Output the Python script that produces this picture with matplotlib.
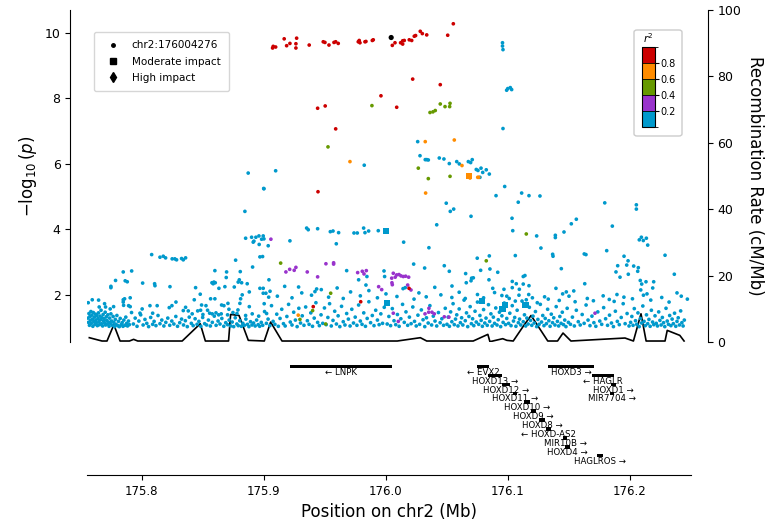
import matplotlib
matplotlib.use("Agg")
import matplotlib.pyplot as plt
from matplotlib.colors import ListedColormap, BoundaryNorm
from matplotlib.colorbar import ColorbarBase
from matplotlib.lines import Line2D
from matplotlib.patches import Rectangle, FancyBboxPatch

# ---- data -------------------------------------------------------------
lead_snp = ("chr2:176004276", 176.004276, 9.85)

# (position Mb, -log10 p), grouped by r2 bin with the lead SNP
red_snps = [
    (175.9076, 9.58), (175.9071, 9.53), (175.9096, 9.56), (175.9166, 9.81), (175.9186, 9.60),
    (175.9213, 9.67), (175.9268, 9.83), (175.9262, 9.66), (175.9262, 9.53), (175.9371, 9.62),
    (175.9486, 9.72), (175.9500, 9.70), (175.9533, 9.62), (175.9574, 9.70), (175.9588, 9.72),
    (175.9609, 9.67), (175.9773, 9.72), (175.9781, 9.76), (175.9787, 9.69), (175.9828, 9.72),
    (175.9836, 9.73), (175.9888, 9.76), (175.9896, 9.78), (176.0052, 9.61), (176.0074, 9.69),
    (176.0120, 9.69), (176.0137, 9.65), (176.0137, 9.75), (176.0150, 9.76), (176.0191, 9.78),
    (176.0211, 9.76), (176.0232, 9.89), (176.0243, 9.91), (176.0281, 10.04), (176.0298, 9.97),
    (176.0334, 9.93), (176.0506, 9.92), (176.0552, 10.27), (176.0219, 8.58), (176.0445, 8.41),
    (175.9440, 7.69), (175.9502, 7.76), (175.9959, 8.07), (176.0088, 7.72), (175.9588, 7.06),
    (175.9443, 5.14), (175.9404, 1.63), (175.9793, 1.78), (176.0189, 2.19),
]

orange_snps = [
    (175.9705, 6.06), (176.0322, 6.67), (176.0560, 6.72), (176.0623, 5.94), (176.0689, 5.56),
    (176.0752, 5.58), (176.0760, 5.58), (176.0325, 5.10), (175.9281, 1.37),
]

green_snps = [
    (175.9885, 7.77), (176.0361, 7.56), (176.0385, 7.58), (176.0404, 7.62), (176.0445, 7.82),
    (176.0484, 7.74), (176.0522, 7.74), (176.0525, 7.84), (176.0265, 5.86), (176.0347, 5.54),
    (176.0525, 5.61), (176.0822, 3.03), (176.1150, 3.85), (175.9137, 2.96), (175.9547, 2.04),
    (175.9399, 1.51), (175.9295, 1.24), (175.9506, 1.10), (175.9525, 6.51),
]

purple_snps = [
    (175.9057, 3.69), (175.9180, 2.69), (175.9211, 2.77), (175.9248, 2.74), (175.9262, 2.83),
    (175.9355, 2.69), (175.9768, 2.67), (175.9806, 2.71), (175.9839, 2.73), (175.9820, 2.63),
    (175.9440, 2.54), (176.0060, 2.65), (176.0088, 2.60), (176.0107, 2.61), (176.0123, 2.57),
    (176.0142, 2.55), (176.0161, 2.56), (176.0186, 2.53), (176.0076, 2.53), (176.0047, 2.50),
    (176.0049, 2.36), (176.0052, 2.30), (176.0178, 2.29), (176.0205, 2.14), (175.9940, 2.24),
    (175.9965, 2.15), (176.0060, 1.43), (176.0101, 1.18), (176.0320, 1.41), (176.0350, 1.46),
    (176.0377, 1.46), (176.0396, 1.41), (176.0352, 1.58), (176.0478, 1.32), (176.0516, 1.31),
    (175.9508, 2.94), (175.9571, 2.93), (175.9571, 2.97), (176.1713, 1.43),
]

blue_snps = [
    # upper tail
    (176.0955, 9.69), (176.0955, 9.59), (176.0959, 9.48), (176.0959, 7.07),
    (176.0989, 8.24), (176.0998, 8.29), (176.1019, 8.32), (176.1030, 8.26),
    (176.0260, 6.67), (176.0279, 6.24), (176.0322, 6.12), (176.0334, 6.12), (176.0347, 6.11),
    (176.0437, 6.17), (176.0475, 6.14), (176.0519, 6.00), (176.0580, 6.06), (176.0601, 5.99),
    (176.0675, 6.06), (176.0694, 6.03), (176.0707, 6.12), (176.0740, 5.82), (176.0754, 5.79),
    (176.0779, 5.86), (176.0793, 5.73), (176.0822, 5.81), (176.0847, 5.68), (176.0770, 5.58),
    (176.0973, 5.30), (176.1112, 5.10), (176.1084, 4.82), (176.0902, 5.02), (176.1172, 5.02),
    (176.1262, 5.01), (176.0494, 4.79), (176.0555, 4.61), (176.0527, 4.54), (176.0697, 4.39),
    (176.1033, 4.33), (176.1039, 3.95), (176.1235, 3.79), (176.1388, 3.81), (176.1388, 3.74),
    (176.1459, 3.91), (176.1519, 4.16), (176.1560, 4.30), (176.1793, 4.80), (176.1855, 4.09),
    (176.2052, 4.74), (176.2052, 4.61), (176.2076, 3.67), (176.2093, 3.75), (176.2109, 3.65),
    (176.2134, 3.72), (176.2145, 3.51), (176.1809, 3.34), (176.1270, 3.42), (176.1060, 3.19),
    (176.1366, 3.23), (176.1369, 3.17), (176.1625, 3.24), (176.1639, 3.22), (176.2287, 3.20),
    (176.1951, 3.17), (176.1984, 3.03), (176.1973, 2.90), (176.1899, 2.88), (176.2030, 2.87),
    (176.2068, 2.82), (176.1885, 2.69), (176.1986, 2.62), (176.2063, 2.71), (176.1918, 2.53),
    (176.2363, 2.62), (176.1437, 2.79), (176.1139, 2.58), (176.1068, 2.33), (176.1093, 2.16),
    (176.1125, 2.32), (176.1035, 2.21), (176.1172, 2.27), (176.1393, 2.19), (176.1448, 2.02),
    (176.1478, 2.08), (176.1539, 2.11), (176.1629, 2.33), (176.1893, 2.00), (176.2084, 2.43),
    (176.2096, 2.32), (176.2131, 2.39), (176.2194, 2.39), (176.2088, 2.14), (176.2139, 2.02),
    (176.2186, 2.20), (176.2385, 2.05), (176.0967, 2.16), (176.1035, 2.40), (176.1125, 2.55),
    (176.1134, 1.71), (176.1170, 2.00), (176.0478, 2.88), (176.0519, 2.71), (176.0748, 3.11),
    (176.0847, 3.18), (176.0776, 2.74), (176.0852, 2.78), (176.0916, 2.68), (176.0653, 2.64),
    (176.0658, 2.36), (176.0702, 2.50), (176.0716, 2.51), (176.0697, 2.42), (176.0844, 2.45),
    (176.0541, 2.26), (176.0875, 2.19),
    (175.9822, 5.95), (175.9096, 5.78), (175.8998, 5.24), (176.0416, 4.13), (176.0145, 3.60),
    (176.0352, 3.43), (175.9350, 4.03), (175.9363, 3.98), (175.9440, 4.01), (175.9544, 3.92),
    (175.9566, 3.94), (175.9612, 3.89), (175.9738, 3.88), (175.9765, 3.88), (175.9817, 4.03),
    (175.9828, 3.89), (175.9858, 3.94), (175.9937, 3.95), (175.9593, 3.55), (175.9213, 3.64),
    (175.8899, 3.75), (175.8918, 3.63), (175.8934, 3.75), (175.8959, 3.79), (175.8994, 3.79),
    (175.8981, 3.69), (175.9000, 3.70), (175.8912, 3.60), (175.8961, 3.53), (175.9035, 3.49),
    (175.8967, 3.15), (175.8989, 3.16), (175.8907, 2.84), (175.9678, 2.73), (175.9984, 2.72),
    (175.9844, 2.55), (176.0227, 2.93), (176.0317, 2.81), (175.9041, 2.45), (175.9989, 2.55),
    (175.9776, 2.45), (175.9836, 2.29), (175.9284, 2.23), (175.9432, 2.17), (175.9418, 2.09),
    (175.8994, 2.19), (176.0158, 2.21),
    (175.8871, 5.71), (175.9000, 5.23), (175.8844, 4.54), (175.8850, 3.72), (175.8768, 3.05),
    (175.8080, 3.22), (175.8148, 3.14), (175.8175, 3.17), (175.8194, 3.12), (175.8248, 3.09),
    (175.8270, 3.09), (175.8284, 3.06), (175.8325, 3.10), (175.8339, 3.06), (175.8358, 3.12),
    (175.7847, 2.69), (175.7916, 2.72), (175.7784, 2.43), (175.7863, 2.42), (175.7880, 2.39),
    (175.8006, 2.35), (175.8104, 2.33), (175.8107, 2.27), (175.7746, 2.21), (175.7746, 2.25),
    (175.8230, 2.24), (175.8598, 2.73), (175.8694, 2.69), (175.8806, 2.70), (175.8691, 2.52),
    (175.8798, 2.45), (175.8789, 2.38), (175.8817, 2.36), (175.8574, 2.36), (175.8590, 2.38),
    (175.8601, 2.36), (175.8584, 2.33), (175.8440, 2.21), (175.8757, 2.23), (175.8680, 2.24),
    (175.8631, 2.19), (175.8863, 2.33), (175.8880, 2.08), (175.8967, 2.19), (175.8994, 2.04),
    (175.9016, 2.04), (175.9039, 1.92), (175.8822, 1.99), (175.8809, 1.87), (175.8478, 2.01),
    (175.8429, 1.84), (175.8525, 1.66), (175.8563, 1.87), (175.8598, 1.87), (175.8489, 1.68),
    (175.8705, 1.73), (175.8803, 1.73), (175.8713, 1.55), (175.8787, 1.53), (175.8880, 1.63),
    (175.9002, 1.72), (175.7858, 1.87), (175.7904, 1.90), (175.7847, 1.84), (175.7847, 1.77),
    (175.7850, 1.67), (175.7891, 1.66), (175.7904, 1.63), (175.7740, 1.56), (175.7768, 1.63),
    (175.7702, 1.62), (175.7650, 1.62), (175.7694, 1.72), (175.7645, 1.83), (175.7593, 1.84),
    (175.7560, 1.75), (175.7984, 1.43), (175.8002, 1.56), (175.8066, 1.66), (175.8088, 1.43),
    (175.8125, 1.66), (175.8224, 1.60), (175.8246, 1.66), (175.8279, 1.77), (175.8339, 1.51),
    (175.8358, 1.61), (175.8380, 1.50), (175.8412, 1.41), (175.8457, 1.50), (175.8481, 1.52),
    (175.8500, 1.39), (175.8538, 1.52), (175.8555, 1.43), (175.8576, 1.41), (175.8607, 1.44),
    (175.8629, 1.38), (175.8650, 1.41), (175.8653, 1.68), (175.8672, 1.66), (175.8702, 1.38),
    (175.8746, 1.45), (175.8779, 1.42), (175.8850, 1.36), (175.8904, 1.41), (175.8957, 1.34),
    (175.9022, 1.42),
    # 1.7 - 2.3 band across the middle and right
    (175.9050, 2.10), (175.9110, 1.95), (175.9170, 2.25), (175.9230, 1.90), (175.9310, 2.05),
    (175.9390, 1.98), (175.9470, 2.15), (175.9530, 1.92), (175.9600, 2.20), (175.9650, 1.88),
    (175.9710, 2.08), (175.9790, 1.96), (175.9860, 2.12), (175.9930, 1.90), (176.0000, 2.02),
    (176.0090, 1.94), (176.0140, 2.18), (176.0230, 1.86), (176.0270, 2.05), (176.0330, 1.93),
    (176.0400, 2.22), (176.0450, 1.99), (176.0540, 1.91), (176.0600, 2.07), (176.0650, 1.88),
    (176.0750, 2.00), (176.0800, 1.90), (176.0890, 2.06), (176.0950, 1.97),
    (176.0990, 1.95), (176.1010, 1.88), (176.1060, 1.80), (176.1090, 1.98), (176.1150, 1.84),
    (176.1200, 1.90), (176.1240, 1.75), (176.1300, 1.93), (176.1330, 1.86), (176.1420, 1.82),
    (176.1500, 1.95), (176.1550, 1.78), (176.1650, 1.88), (176.1700, 1.81), (176.1780, 1.96),
    (176.1830, 1.85), (176.1870, 1.79), (176.1950, 1.92), (176.2020, 1.87), (176.2110, 1.98),
    (176.2170, 1.83), (176.2260, 1.91), (176.2320, 1.77), (176.2420, 1.95), (176.2470, 1.86),
    # low band, p around 0.1 - 0.03
    (175.7558, 1.28), (175.7562, 1.15), (175.7566, 1.42), (175.7570, 1.06), (175.7574, 1.33),
    (175.7578, 1.21), (175.7582, 1.48), (175.7586, 1.12), (175.7590, 1.37), (175.7594, 1.25),
    (175.7598, 1.03), (175.7602, 1.45), (175.7606, 1.18), (175.7611, 1.31), (175.7615, 1.09),
    (175.7619, 1.40), (175.7623, 1.22), (175.7627, 1.14), (175.7631, 1.36), (175.7635, 1.05),
    (175.7640, 1.27), (175.7644, 1.44), (175.7648, 1.17), (175.7652, 1.08), (175.7657, 1.34),
    (175.7661, 1.23), (175.7665, 1.52), (175.7669, 1.11), (175.7673, 1.29), (175.7678, 1.04),
    (175.7682, 1.39), (175.7686, 1.19), (175.7690, 1.26), (175.7695, 1.13), (175.7699, 1.46),
    (175.7703, 1.07), (175.7708, 1.32), (175.7712, 1.21), (175.7716, 1.10), (175.7721, 1.38),
    (175.7726, 1.16), (175.7731, 1.03), (175.7736, 1.28), (175.7741, 1.12), (175.7746, 1.41),
    (175.7752, 1.19), (175.7758, 1.06), (175.7764, 1.33), (175.7770, 1.15), (175.7776, 1.02),
    (175.7782, 1.24), (175.7788, 1.09), (175.7795, 1.36), (175.7802, 1.05), (175.7808, 1.18),
    (175.7815, 1.02), (175.7822, 1.27), (175.7830, 1.08), (175.7838, 1.14), (175.7845, 1.03),
    (175.7852, 1.22), (175.7860, 1.06), (175.7868, 1.31), (175.7875, 1.12), (175.7882, 1.04),
    (175.7890, 1.19), (175.7897, 1.08),
    (175.7915, 1.45), (175.7930, 1.10), (175.7945, 1.28), (175.7960, 1.03), (175.7975, 1.19),
    (175.7990, 1.38), (175.8010, 1.07), (175.8025, 1.24), (175.8040, 1.12), (175.8055, 1.02),
    (175.8072, 1.30), (175.8088, 1.09), (175.8100, 1.18), (175.8115, 1.05), (175.8132, 1.36),
    (175.8148, 1.11), (175.8163, 1.22), (175.8180, 1.04), (175.8196, 1.15), (175.8212, 1.28),
    (175.8228, 1.06), (175.8245, 1.19), (175.8262, 1.10), (175.8278, 1.33), (175.8292, 1.03),
    (175.8310, 1.14), (175.8325, 1.25), (175.8341, 1.07), (175.8356, 1.20), (175.8372, 1.02),
    (175.8388, 1.31),
    (175.8405, 1.12), (175.8420, 1.05), (175.8436, 1.26), (175.8452, 1.09), (175.8467, 1.18),
    (175.8483, 1.03), (175.8498, 1.30), (175.8514, 1.11), (175.8530, 1.07), (175.8545, 1.22),
    (175.8561, 1.04), (175.8577, 1.15), (175.8593, 1.34), (175.8608, 1.06), (175.8624, 1.19),
    (175.8640, 1.10), (175.8655, 1.27), (175.8671, 1.03), (175.8687, 1.14),
    (175.8702, 1.08), (175.8715, 1.22), (175.8728, 1.04), (175.8740, 1.16), (175.8752, 1.02),
    (175.8765, 1.29), (175.8778, 1.10), (175.8790, 1.05), (175.8802, 1.20), (175.8815, 1.03),
    (175.8827, 1.12), (175.8840, 1.06), (175.8852, 1.25), (175.8865, 1.09), (175.8877, 1.02),
    (175.8890, 1.17), (175.8902, 1.07), (175.8915, 1.13), (175.8928, 1.04), (175.8940, 1.22),
    (175.8953, 1.08), (175.8965, 1.03), (175.8978, 1.15), (175.8990, 1.06),
    (175.9005, 1.48), (175.9020, 1.12), (175.9034, 1.25), (175.9048, 1.05), (175.9062, 1.66),
    (175.9075, 1.18), (175.9090, 1.09), (175.9105, 1.40), (175.9118, 1.03), (175.9132, 1.27),
    (175.9146, 1.55), (175.9160, 1.11), (175.9174, 1.04), (175.9188, 1.33), (175.9202, 1.70),
    (175.9216, 1.16), (175.9230, 1.07), (175.9244, 1.46), (175.9258, 1.22), (175.9272, 1.02),
    (175.9286, 1.58), (175.9300, 1.13), (175.9314, 1.35), (175.9328, 1.06), (175.9342, 1.62),
    (175.9356, 1.20), (175.9370, 1.09), (175.9384, 1.44), (175.9398, 1.03), (175.9412, 1.28),
    (175.9426, 1.75), (175.9440, 1.15), (175.9454, 1.05), (175.9468, 1.38), (175.9482, 1.12),
    (175.9496, 1.59),
    (175.9510, 1.08), (175.9524, 1.30), (175.9538, 1.72), (175.9552, 1.04), (175.9566, 1.21),
    (175.9580, 1.49), (175.9594, 1.10), (175.9608, 1.35), (175.9622, 1.02), (175.9636, 1.64),
    (175.9650, 1.17), (175.9664, 1.07), (175.9678, 1.42), (175.9692, 1.25), (175.9706, 1.04),
    (175.9720, 1.55), (175.9734, 1.13), (175.9748, 1.31), (175.9762, 1.06), (175.9776, 1.68),
    (175.9790, 1.19), (175.9804, 1.09), (175.9818, 1.44), (175.9832, 1.03), (175.9846, 1.27),
    (175.9860, 1.78), (175.9874, 1.14), (175.9888, 1.36), (175.9902, 1.05), (175.9916, 1.52),
    (175.9930, 1.22), (175.9944, 1.08), (175.9958, 1.41), (175.9972, 1.12), (175.9986, 1.61),
    (176.0010, 1.10), (176.0024, 1.33), (176.0038, 1.05), (176.0052, 1.57), (176.0066, 1.20),
    (176.0080, 1.08), (176.0094, 1.39), (176.0108, 1.03), (176.0122, 1.26), (176.0136, 1.70),
    (176.0150, 1.15), (176.0164, 1.47), (176.0178, 1.06), (176.0192, 1.31), (176.0206, 1.11),
    (176.0220, 1.62), (176.0234, 1.18), (176.0248, 1.04), (176.0262, 1.37), (176.0276, 1.09),
    (176.0290, 1.53), (176.0304, 1.23), (176.0318, 1.02), (176.0332, 1.29), (176.0346, 1.13),
    (176.0360, 1.66), (176.0374, 1.07), (176.0388, 1.34), (176.0402, 1.19), (176.0416, 1.04),
    (176.0430, 1.45), (176.0444, 1.14), (176.0458, 1.26), (176.0472, 1.06), (176.0486, 1.58),
    (176.0500, 1.09), (176.0510, 1.31), (176.0520, 1.03), (176.0530, 1.47), (176.0540, 1.17),
    (176.0550, 1.72), (176.0560, 1.08), (176.0570, 1.25), (176.0580, 1.38), (176.0590, 1.04),
    (176.0600, 1.56), (176.0610, 1.14), (176.0620, 1.29), (176.0630, 1.07), (176.0640, 1.83),
    (176.0650, 1.20), (176.0660, 1.44), (176.0670, 1.02), (176.0680, 1.33), (176.0690, 1.63),
    (176.0700, 1.11), (176.0710, 1.26), (176.0720, 1.05), (176.0730, 1.49), (176.0740, 1.16),
    (176.0750, 1.77), (176.0760, 1.09), (176.0770, 1.36), (176.0780, 1.21), (176.0790, 1.03),
    (176.0800, 1.54), (176.0810, 1.13), (176.0820, 1.28), (176.0830, 1.06), (176.0840, 1.69),
    (176.0850, 1.18), (176.0860, 1.41), (176.0870, 1.04), (176.0880, 1.31), (176.0890, 1.12),
    (176.0900, 1.59), (176.0910, 1.07), (176.0920, 1.23), (176.0930, 1.46), (176.0940, 1.02),
    (176.0950, 1.35), (176.0960, 1.15), (176.0970, 1.74), (176.0980, 1.08), (176.0990, 1.27),
    (176.1005, 1.12), (176.1015, 1.43), (176.1025, 1.05), (176.1035, 1.66), (176.1045, 1.19),
    (176.1055, 1.30), (176.1065, 1.03), (176.1075, 1.52), (176.1085, 1.14), (176.1095, 1.25),
    (176.1105, 1.07), (176.1115, 1.80), (176.1125, 1.17), (176.1135, 1.38), (176.1145, 1.04),
    (176.1155, 1.28), (176.1165, 1.10), (176.1175, 1.61), (176.1185, 1.21), (176.1195, 1.06),
    (176.1205, 1.34), (176.1215, 1.13), (176.1225, 1.48), (176.1235, 1.02), (176.1245, 1.24),
    (176.1255, 1.09), (176.1265, 1.70), (176.1275, 1.16), (176.1285, 1.36), (176.1295, 1.05),
    (176.1305, 1.27), (176.1315, 1.11), (176.1325, 1.55), (176.1335, 1.20), (176.1345, 1.03),
    (176.1355, 1.40), (176.1365, 1.14), (176.1375, 1.29), (176.1385, 1.07), (176.1395, 1.63),
    (176.1405, 1.18), (176.1415, 1.04), (176.1425, 1.33), (176.1435, 1.12), (176.1445, 1.46),
    (176.1455, 1.08), (176.1465, 1.22), (176.1475, 1.02), (176.1485, 1.58), (176.1495, 1.15),
    (176.1512, 1.09), (176.1528, 1.31), (176.1544, 1.04), (176.1560, 1.52), (176.1576, 1.17),
    (176.1592, 1.07), (176.1608, 1.39), (176.1624, 1.12), (176.1640, 1.68), (176.1656, 1.22),
    (176.1672, 1.05), (176.1688, 1.34), (176.1704, 1.14), (176.1720, 1.03), (176.1736, 1.47),
    (176.1752, 1.19), (176.1768, 1.09), (176.1784, 1.60), (176.1800, 1.26), (176.1816, 1.06),
    (176.1832, 1.37), (176.1848, 1.13), (176.1864, 1.02), (176.1880, 1.49), (176.1896, 1.18),
    (176.1912, 1.08), (176.1928, 1.30), (176.1944, 1.72), (176.1960, 1.11), (176.1976, 1.42),
    (176.1992, 1.04),
    (176.2005, 1.15), (176.2015, 1.33), (176.2025, 1.06), (176.2035, 1.57), (176.2045, 1.20),
    (176.2055, 1.09), (176.2065, 1.44), (176.2075, 1.02), (176.2085, 1.27), (176.2095, 1.13),
    (176.2105, 1.65), (176.2115, 1.18), (176.2125, 1.05), (176.2135, 1.38), (176.2145, 1.11),
    (176.2155, 1.24), (176.2165, 1.03), (176.2175, 1.52), (176.2185, 1.16), (176.2195, 1.08),
    (176.2205, 1.35), (176.2215, 1.12), (176.2225, 1.04), (176.2235, 1.47), (176.2245, 1.21),
    (176.2255, 1.07), (176.2265, 1.30), (176.2275, 1.14), (176.2285, 1.02), (176.2295, 1.58),
    (176.2305, 1.19), (176.2315, 1.09), (176.2325, 1.36), (176.2335, 1.05), (176.2345, 1.25),
    (176.2355, 1.11), (176.2365, 1.43), (176.2375, 1.03), (176.2385, 1.18), (176.2395, 1.29),
    (176.2405, 1.07), (176.2415, 1.50), (176.2425, 1.14), (176.2435, 1.04), (176.2445, 1.22),
]

# moderate impact variants: (position, -log10 p, r2 bin colour)
moderate_snps = [
    (176.0003, 3.95, "#0099CC"), (176.0007, 1.73, "#0099CC"), (176.0683, 5.61, "#FF8C00"),
    (176.0788, 1.80, "#0099CC"), (176.0955, 1.55, "#0099CC"), (176.0977, 1.68, "#0099CC"),
    (176.1143, 1.68, "#0099CC"),
]

# recombination rate (cM/Mb)
rec_pos = [175.7569, 175.7673, 175.7714, 175.7770, 175.7821, 175.7898, 175.7932, 175.7966,
           175.8330, 175.8478, 175.8520, 175.8710, 175.8727, 175.8796, 175.8872, 175.9003,
           175.9055, 175.9148, 175.9539, 176.0093, 176.0282, 176.0334, 176.0715, 176.0835,
           176.0852, 176.0957, 176.0991, 176.1043, 176.1130, 176.1189, 176.1326, 176.1406,
           176.1451, 176.1516, 176.1959, 176.2028, 176.2090, 176.2132, 176.2287, 176.2305,
           176.2408, 176.2443]
rec_rate = [1.3, 0.3, 0.3, 5.2, 0.3, 0.3, 0.8, 0.3,
            0.3, 5.5, 0.3, 0.3, 8.3, 8.0, 0.5, 0.3,
            6.0, 0.3, 0.3, 0.3, 1.3, 0.3, 0.3, 2.3,
            0.1, 1.0, 0.5, 0.3, 5.0, 8.0, 0.3, 0.3,
            2.7, 0.3, 1.2, 0.3, 8.5, 0.3, 0.3, 3.5,
            2.0, 0.3]

# genes: name, start, end, strand, row
genes = [
    ("LNPK", 175.9213, 176.0047, "-", 0),
    ("EVX2", 176.0743, 176.0847, "-", 0),
    ("HOXD3", 176.1330, 176.1707, "+", 0),
    ("HOXD13", 176.0839, 176.0948, "+", 1),
    ("HAGLR", 176.1686, 176.1871, "-", 1),
    ("HOXD12", 176.0948, 176.1016, "+", 2),
    ("HOXD1", 176.1842, 176.1885, "+", 2),
    ("HOXD11", 176.1039, 176.1076, "+", 3),
    ("MIR7704", 176.1836, 176.1869, "+", 3),
    ("HOXD10", 176.1131, 176.1180, "+", 4),
    ("HOXD9", 176.1186, 176.1230, "+", 5),
    ("HOXD8", 176.1257, 176.1303, "+", 6),
    ("HOXD-AS2", 176.1311, 176.1350, "-", 7),
    ("MIR10B", 176.1453, 176.1486, "+", 8),
    ("HOXD4", 176.1467, 176.1508, "+", 9),
    ("HAGLROS", 176.1732, 176.1776, "+", 10),
]

r2_colors = ["#0099CC", "#9933CC", "#669900", "#FF8C00", "#CC0000"]
r2_bounds = [0.0, 0.2, 0.4, 0.6, 0.8, 1.0]
xlim = (175.755, 176.25)

# ---- figure -----------------------------------------------------------
fig = plt.figure(figsize=(7.74, 5.30), dpi=100)
ax = fig.add_axes([0.1124, 0.3547, 0.7804, 0.6264])
ax2 = ax.twinx()
gx = fig.add_axes([0.1124, 0.1038, 0.7804, 0.2264])

# recombination rate underneath the points
ax.set_zorder(2)
ax.patch.set_visible(False)
ax2.plot(rec_pos, rec_rate, color="black", lw=1.2)
ax2.set_ylim(0, 100)
ax2.set_ylabel("Recombination Rate (cM/Mb)", fontsize=12, rotation=270, labelpad=16)
ax2.tick_params(labelsize=9)
for s in ["top", "bottom", "left"]:
    ax2.spines[s].set_visible(False)
ax2.spines["right"].set_position(("outward", 12))

groups = [(blue_snps, r2_colors[0]), (purple_snps, r2_colors[1]), (green_snps, r2_colors[2]),
          (orange_snps, r2_colors[3]), (red_snps, r2_colors[4])]
for pts, col in groups:
    xs, ys = zip(*pts)
    ax.scatter(xs, ys, s=7, color=col, edgecolors="none")

mx, my, mc = zip(*moderate_snps)
ax.scatter(mx, my, s=20, marker="s", c=list(mc), edgecolors="none")
ax.scatter([lead_snp[1]], [lead_snp[2]], s=14, color="black", edgecolors="none", zorder=5)

ax.set_xlim(*xlim)
ax.set_ylim(0.55, 10.69)
ax.set_yticks([2, 4, 6, 8, 10])
ax.tick_params(labelsize=9)
ax.set_ylabel(r"$-\log_{10}(p)$", fontsize=12)
ax.set_xticks([])
for s in ["top", "bottom", "right"]:
    ax.spines[s].set_visible(False)
ax.spines["left"].set_position(("outward", 12))

handles = [
    Line2D([], [], ls="none", marker=".", color="black", markersize=5),
    Line2D([], [], ls="none", marker="s", color="black", markersize=5),
    Line2D([], [], ls="none", marker="d", color="black", markersize=5),
]
ax.legend(handles, [lead_snp[0], "Moderate impact", "High impact"], loc="upper left",
          bbox_to_anchor=(0.012, 0.934), borderaxespad=0, fontsize=7.5, handletextpad=0.8,
          borderpad=0.8, labelspacing=0.6)

# r2 colour key with its frame
frame = FancyBboxPatch((634 / 774, 1 - 136 / 530), 48 / 774, 106 / 530,
                       boxstyle="round,pad=0,rounding_size=0.004", transform=fig.transFigure,
                       facecolor="white", edgecolor="#cccccc", lw=1, zorder=4)
fig.patches.append(frame)
cax = fig.add_axes([641.7 / 774, 1 - 126.7 / 530, 13.3 / 774, 79.4 / 530])
cax.set_zorder(5)
cb = ColorbarBase(cax, cmap=ListedColormap(r2_colors), norm=BoundaryNorm(r2_bounds, 5),
                  boundaries=r2_bounds, ticks=[0.2, 0.4, 0.6, 0.8], drawedges=True)
cb.outline.set_linewidth(0.8)
cb.dividers.set_linewidth(0.6)
cax.tick_params(labelsize=7, length=3, width=0.8, pad=1)
cax.set_title(r"$r^2$", fontsize=7.5, pad=3)

# gene track
for name, start, end, strand, row in genes:
    gx.add_patch(Rectangle((start, row - 0.2), end - start, 0.4, color="black", lw=0))
    label = name + " \u2192" if strand == "+" else "\u2190 " + name
    gx.text((start + end) / 2, row + 0.12, label, fontsize=6.2, ha="center", va="top")
gx.set_xlim(*xlim)
gx.set_ylim(12.17, -1.31)
gx.set_yticks([])
gx.set_xticks([175.8, 175.9, 176.0, 176.1, 176.2])
gx.tick_params(axis="x", labelsize=8.5)
for s in ["top", "left", "right"]:
    gx.spines[s].set_visible(False)
gx.set_xlabel("Position on chr2 (Mb)", fontsize=12)

fig.savefig("out.png", dpi=100)
